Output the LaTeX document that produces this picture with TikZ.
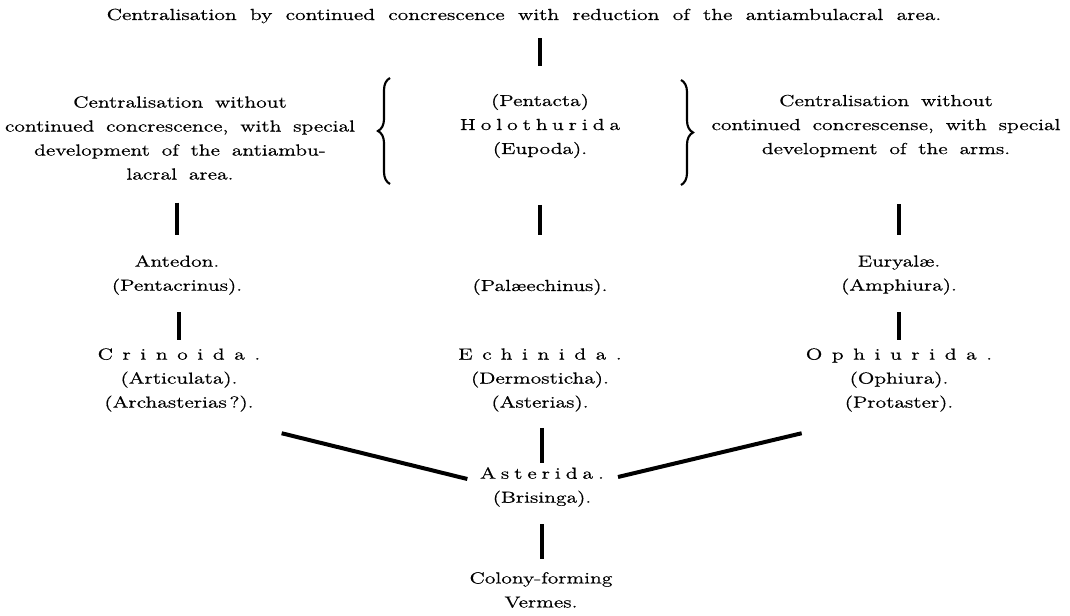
\documentclass[tikz,border=0pt]{standalone}
\usepackage{fontspec}
\setmainfont[FakeStretch=1.35, WordSpace=2.1, FakeBold=0.6]{Latin Modern Roman}
\newfontfamily\gappedfont[FakeStretch=1.35, LetterSpace=60, FakeBold=0.6]{Latin Modern Roman}
\newfontfamily\halfgappedfont[FakeStretch=1.35, LetterSpace=31, FakeBold=0.6]{Latin Modern Roman}
\usetikzlibrary{decorations.pathreplacing}

\newcommand{\gapped}[1]{{\gappedfont #1}}
\newcommand{\halfgapped}[1]{{\halfgappedfont #1}}
\newcommand{\spaces}[1]{\spaceskip=#1\fontdimen2\font\relax}

\tikzset{
    taxon/.style={align=center, inner sep=0pt, font=\fontsize{12}{18}\selectfont},
    heading/.style={taxon, font=\fontsize{12}{18}\selectfont\spaces{0.9}},
    tight/.style={taxon, font=\fontsize{12}{18}\selectfont\spaces{0.8}},
    stem/.style={line width=3pt},
    fork/.style={line width=3pt},
    curly/.style={decorate, decoration={brace, amplitude=9pt}, line width=1.6pt},
}

\begin{document}
\begin{tikzpicture}[x=0.75pt, y=-0.75pt]
    \useasboundingbox[fill=white] (0,0) rectangle (1070,616);

    \node (title) [heading] at (524,16) {Centralisation by continued concrescence with reduction of the antiambulacral area.};

    \node (antiamb) [tight] at (180,138) {Centralisation without\\continued concrescence, with special\\development of the antiambu-\\lacral area.};
    \node (holo) [taxon] at (540,126) {(Pentacta)\\\halfgapped{Holothurida}\\(Eupoda).};
    \node (arms) [tight] at (886,126) {Centralisation without\\continued concrescense, with special\\development of the arms.};

    \node (antedon) [taxon] at (177,275) {Antedon.\\(Pentacrinus).};
    \node (palae) [taxon] at (540,287) {(Pal\ae echinus).};
    \node (euryale) [taxon] at (899,275) {Euryal\ae.\\(Amphiura).};

    \node (crin) [taxon] at (179,380) {\gapped{Crinoida.}\\(Articulata).\\(Archasterias\,?).};
    \node (echin) [taxon] at (540,380) {\gapped{Echinida.}\\(Dermosticha).\\(Asterias).};
    \node (ophi) [taxon] at (899,380) {\gapped{Ophiurida.}\\(Ophiura).\\(Protaster).};

    \node (aster) [taxon] at (542,487) {\halfgapped{Asterida.}\\(Brisinga).};
    \node (vermes) [taxon] at (541,590) {Colony-forming\\Vermes.};

    % braces round the holothurians
    \draw[curly] (390,184) -- (390,78);
    \draw[curly] (681,80) -- (681,185);

    % stems
    \draw[stem, shorten <=11pt, shorten >=21pt] (title.south -| holo.north) -- (holo.north);
    \draw[stem, shorten <=17pt, shorten >=15pt] (antiamb.south -| antedon.north) -- (antedon.north);
    \draw[stem, shorten <=35pt, shorten >=33pt] (holo.south) -- (palae.north);
    \draw[stem, shorten <=35pt, shorten >=15pt] (arms.south -| euryale.north) -- (euryale.north);
    \draw[stem, shorten <=13pt, shorten >=6pt] (antedon.south -| crin.north) -- (crin.north);
    \draw[stem, shorten <=13pt, shorten >=6pt] (euryale.south) -- (ophi.north);
    \draw[stem, shorten <=12pt, shorten >=3pt] (echin.south -| aster.north) -- (aster.north);
    \draw[stem, shorten <=13pt, shorten >=10pt] (aster.south) -- (vermes.north -| aster.south);

    % forks into the starfish
    \draw[fork] ([xshift=77pt, yshift=-16pt]crin.south) -- ([xshift=-56pt, yshift=6pt]aster.center);
    \draw[fork] ([xshift=-73pt, yshift=-16pt]ophi.south) -- ([xshift=57pt, yshift=7.5pt]aster.center);
\end{tikzpicture}
\end{document}
